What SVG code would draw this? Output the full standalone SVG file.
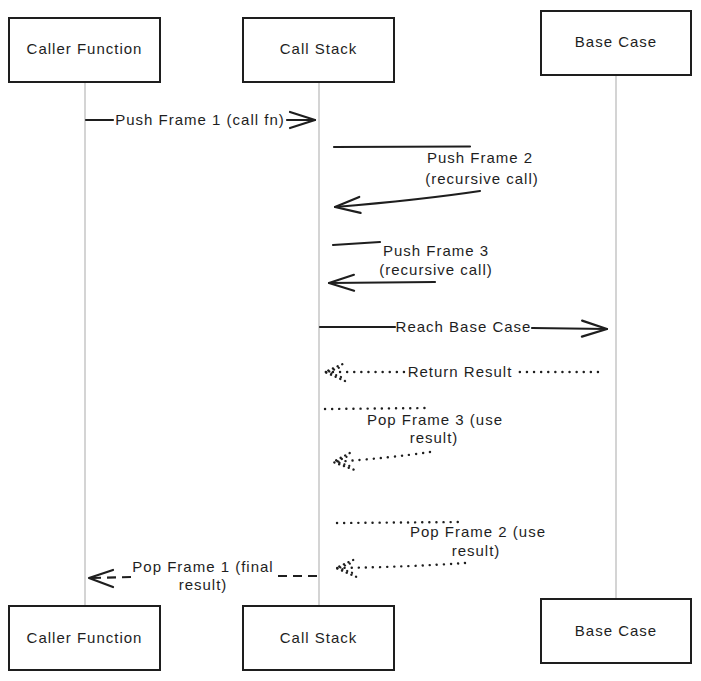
<svg xmlns="http://www.w3.org/2000/svg" width="701" height="681" viewBox="0 0 701 681">
  <style>
    .box { fill: #ffffff; stroke: #1e1e1e; stroke-width: 2; }
    .life { stroke: #b8b8b8; stroke-width: 1.2; fill: none; }
    .lbl { font-family: "Liberation Sans", Arial, sans-serif; font-size: 15px; letter-spacing: 1px; fill: #1e1e1e; text-anchor: middle; }
    .solid { stroke: #1e1e1e; stroke-width: 2.2; fill: none; stroke-linecap: round; }
    .dotted { stroke: #1e1e1e; stroke-width: 2.4; fill: none; stroke-linecap: round; stroke-dasharray: 0.1 7; }
    .dashed { stroke: #1e1e1e; stroke-width: 2.2; fill: none; stroke-dasharray: 9 6; }
  </style>
  <defs>
    <marker id="arrSolid" markerUnits="userSpaceOnUse" viewBox="-30 -12 34 24" markerWidth="34" markerHeight="24" refX="0" refY="0" orient="auto" overflow="visible">
      <path d="M-25,-8 L0,0 L-25,8" fill="none" stroke="#1e1e1e" stroke-width="2.2" stroke-linecap="round" stroke-linejoin="round"/>
    </marker>
    <marker id="arrDot" markerUnits="userSpaceOnUse" viewBox="-30 -12 34 24" markerWidth="34" markerHeight="24" refX="0" refY="0" orient="auto" overflow="visible">
      <path d="M-20,-9 L0,0 L-20,9" fill="none" stroke="#1e1e1e" stroke-width="2.4" stroke-linecap="round" stroke-dasharray="0.1 5"/>
      <path d="M-16,-5 L-3,0 L-16,5" fill="none" stroke="#1e1e1e" stroke-width="2.2" stroke-linecap="round" stroke-dasharray="0.1 5"/>
    </marker>
  </defs>
  <rect width="701" height="681" fill="#ffffff"/>

  <g id="lifelines">
    <line class="life" x1="85" y1="82" x2="85" y2="606"/>
    <line class="life" x1="319" y1="82" x2="319" y2="606"/>
    <line class="life" x1="616" y1="75" x2="616" y2="599"/>
  </g>

  <g id="caller-top">
    <rect class="box" x="9" y="18" width="151" height="64"/>
    <text class="lbl" x="84.5" y="54">Caller Function</text>
  </g>
  <g id="stack-top">
    <rect class="box" x="243" y="18" width="151" height="64"/>
    <text class="lbl" x="318.5" y="54">Call Stack</text>
  </g>
  <g id="base-top">
    <rect class="box" x="541" y="11" width="150" height="64"/>
    <text class="lbl" x="616" y="47">Base Case</text>
  </g>
  <g id="caller-bottom">
    <rect class="box" x="9" y="606" width="151" height="64"/>
    <text class="lbl" x="84.5" y="643">Caller Function</text>
  </g>
  <g id="stack-bottom">
    <rect class="box" x="243" y="606" width="151" height="64"/>
    <text class="lbl" x="318.5" y="643">Call Stack</text>
  </g>
  <g id="base-bottom">
    <rect class="box" x="541" y="599" width="150" height="64"/>
    <text class="lbl" x="616" y="636">Base Case</text>
  </g>

  <g id="connectors">
    <!-- 1 Push Frame 1 -->
    <path class="solid" d="M86,120 L113,120 M287,120 L315,120" marker-end="url(#arrSolid)"/>
    <text class="lbl" x="200" y="125">Push Frame 1 (call fn)</text>

    <!-- 2 Push Frame 2 (self) -->
    <path class="solid" d="M334,147 L470,146.5"/>
    <path class="solid" d="M480,191 Q420,200 335,207" marker-end="url(#arrSolid)"/>
    <text class="lbl" x="480" y="163">Push Frame 2</text>
    <text class="lbl" x="482" y="184">(recursive call)</text>

    <!-- 3 Push Frame 3 (self) -->
    <path class="solid" d="M333,245 L380,242"/>
    <path class="solid" d="M435,282 L329,283" marker-end="url(#arrSolid)"/>
    <text class="lbl" x="436" y="256">Push Frame 3</text>
    <text class="lbl" x="436" y="275">(recursive call)</text>

    <!-- 4 Reach Base Case -->
    <path class="solid" d="M320,327 L395,327 M532,328 L607,329" marker-end="url(#arrSolid)"/>
    <text class="lbl" x="463.5" y="332">Reach Base Case</text>

    <!-- 5 Return Result -->
    <path class="dotted" d="M598,372 L516,372 M404,372 L325,372" marker-end="url(#arrDot)"/>
    <text class="lbl" x="460" y="377">Return Result</text>

    <!-- 6 Pop Frame 3 (self) -->
    <path class="dotted" d="M325,409 L430,408"/>
    <path class="dotted" d="M430,452 Q390,458 333,462" marker-end="url(#arrDot)"/>
    <text class="lbl" x="435" y="425">Pop Frame 3 (use</text>
    <text class="lbl" x="434" y="443">result)</text>

    <!-- 7 Pop Frame 2 (self) -->
    <path class="dotted" d="M337,523 L463,522"/>
    <path class="dotted" d="M465,563 Q410,567 336,568" marker-end="url(#arrDot)"/>
    <text class="lbl" x="478" y="537">Pop Frame 2 (use</text>
    <text class="lbl" x="476" y="556">result)</text>

    <!-- 8 Pop Frame 1 -->
    <path class="dashed" d="M317,576 L274,576"/>
    <path class="dashed" d="M131,577 L92,578"/>
    <path class="solid" d="M113,570 L89,578 L113,587" stroke-linejoin="round"/>
    <text class="lbl" x="203" y="572">Pop Frame 1 (final</text>
    <text class="lbl" x="203" y="590">result)</text>
  </g>
</svg>
